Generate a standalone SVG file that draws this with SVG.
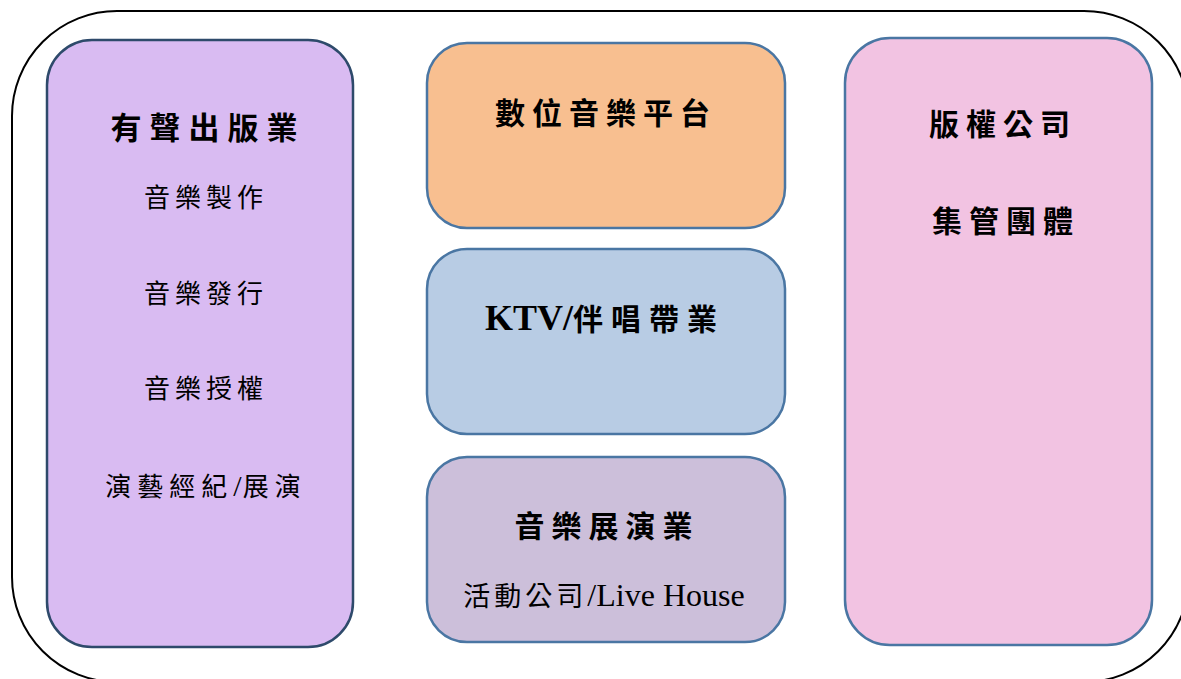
<svg xmlns="http://www.w3.org/2000/svg" width="1181" height="679" viewBox="0 0 1181 679">
<style>
.node{stroke-width:2.5}
.t{font-family:"Liberation Serif","Noto Sans CJK TC",serif;fill:#000;text-anchor:middle}
.b{font-weight:bold;font-size:30px;letter-spacing:7px}
.r{font-size:26px;letter-spacing:5px}
</style>
<rect width="1181" height="679" fill="#fff"/>
<rect x="12" y="11" width="1177" height="671" rx="105" ry="105" fill="none" stroke="#000" stroke-width="2"/>
<g id="recording">
<rect class="node" x="47" y="40" width="306" height="607" rx="45" fill="#D9BBF2" stroke="#2E4A6B"/>
<text class="t b" x="208" y="139" style="font-size:31px;letter-spacing:8px">有聲出版業</text>
<text class="t r" x="206" y="207">音樂製作</text>
<text class="t r" x="206" y="303">音樂發行</text>
<text class="t r" x="206" y="398">音樂授權</text>
<text class="t" x="206" y="496" font-size="26" letter-spacing="6">演藝經紀<tspan font-size="30" letter-spacing="1">/</tspan>展演</text>
</g>
<g id="digital">
<rect class="node" x="427" y="43" width="358" height="185" rx="40" fill="#F8BF90" stroke="#4A76A3"/>
<text class="t b" x="606" y="124">數位音樂平台</text>
</g>
<g id="ktv">
<rect class="node" x="427" y="249" width="358" height="185" rx="40" fill="#B8CCE4" stroke="#4A76A3"/>
<text class="t" x="605" y="330" font-weight="bold"><tspan font-size="36">KTV/</tspan><tspan font-size="30" letter-spacing="8">伴唱帶業</tspan></text>
</g>
<g id="live">
<rect class="node" x="427" y="457" width="358" height="185" rx="40" fill="#CCBFDA" stroke="#4A76A3"/>
<text class="t b" x="607" y="537">音樂展演業</text>
<text class="t" x="604" y="606"><tspan font-size="27" letter-spacing="4">活動公司</tspan><tspan font-size="32">/Live House</tspan></text>
</g>
<g id="copyright">
<rect class="node" x="845" y="38" width="307" height="607" rx="45" fill="#F2C3E2" stroke="#4A76A3"/>
<text class="t b" x="1003" y="135">版權公司</text>
<text class="t b" x="1006" y="232">集管團體</text>
</g>
<g id="connectors"></g>
</svg>
